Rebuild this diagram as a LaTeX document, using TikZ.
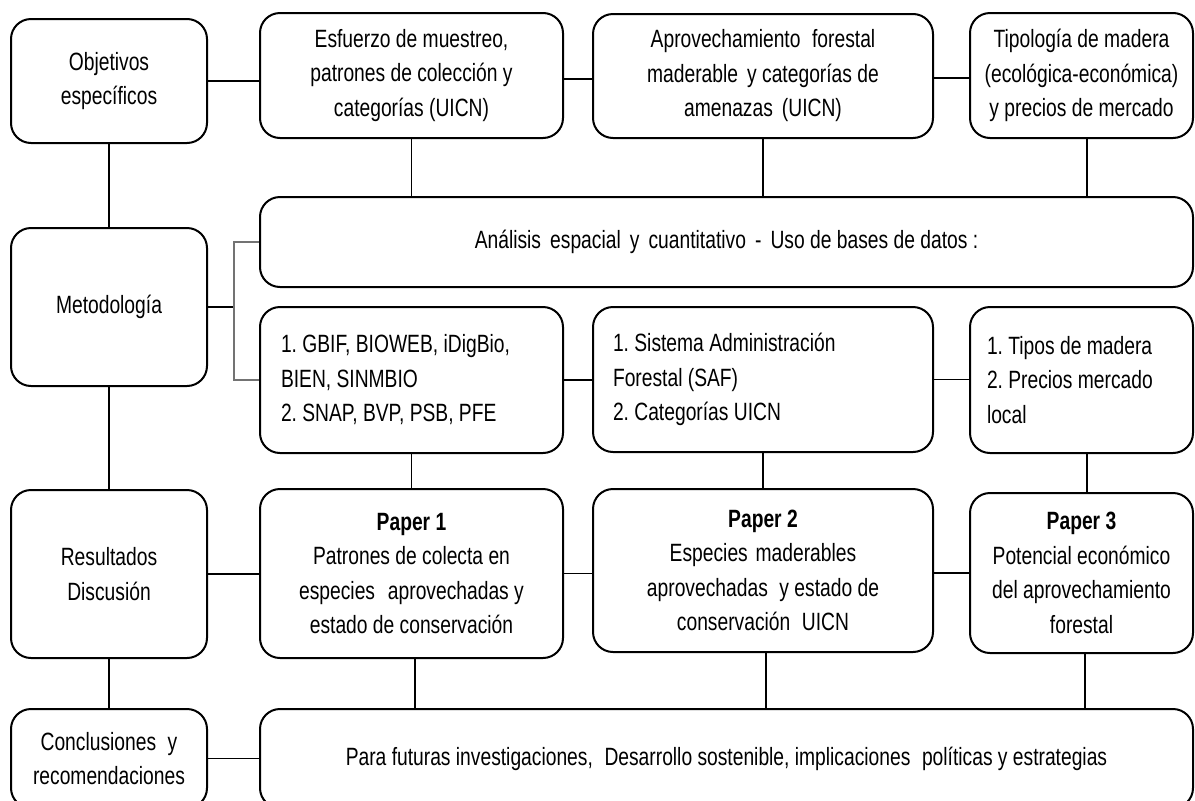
\documentclass[tikz,border=0pt]{standalone}
\usepackage{fontspec}
\setmainfont{Liberation Sans}[FakeStretch=0.77]
\frenchspacing
\begin{document}
\begin{tikzpicture}[x=1pt,y=-1pt,
  box/.style={draw, line width=2pt, rounded corners=20pt, inner sep=0pt, align=center,
    font=\fontsize{25pt}{34.5pt}\selectfont},
  lbox/.style={box, align=flush left},
  conn/.style={line width=1.8pt},
  brk/.style={line width=1.1pt, draw=black!55}]
\useasboundingbox (0,0) rectangle (1195,801);
\clip (0,0) rectangle (1195,801);
% left column
\node[box, minimum width=196pt, minimum height=124pt] (obj) at (109,81) {Objetivos\\específicos};
\node[box, minimum width=196pt, minimum height=158pt] (met) at (109,307) {Metodología};
\node[box, minimum width=196pt, minimum height=168pt] (res) at (109,574) {Resultados\\Discusión};
\node[box, minimum width=196pt, minimum height=99pt] (con) at (109,758.5) {Conclusiones\hspace{0.25em} y\\recomendaciones};
% top row
\node[box, minimum width=303pt, minimum height=125pt] (esf) at (411.5,75.5) {Esfuerzo de muestreo,\\patrones de colección y\\categorías (UICN)};
\node[box, minimum width=340pt, minimum height=124pt] (apr) at (763,76) {Aprovechamiento\hspace{0.25em} forestal\\maderable\hspace{0.15em} y categorías de\\amenazas\hspace{0.15em} (UICN)};
\node[box, minimum width=223pt, minimum height=125pt] (tip) at (1081.5,75.5) {Tipología de madera\\(ecológica-económica)\\y precios de mercado};
% analysis
\node[box, minimum width=933pt, minimum height=90pt] (ana) at (726.5,242) {Análisis\hspace{0.15em} espacial\hspace{0.15em} y\hspace{0.15em} cuantitativo\hspace{0.15em} -\hspace{0.15em} Uso de bases de datos :};
% data row
\node[lbox, inner xsep=21pt, text width=261pt, minimum height=146pt] (gbif) at (411.5,380) {1. GBIF, BIOWEB, iDigBio,\\BIEN, SINMBIO\\2. SNAP, BVP, PSB, PFE};
\node[lbox, inner xsep=20pt, text width=300pt, minimum height=145pt] (saf) at (763,379.5) {1. Sistema Administración\\Forestal (SAF)\\2. Categorías UICN};
\node[lbox, inner xsep=17pt, text width=189pt, minimum height=146pt] (tipos) at (1081.5,380) {1. Tipos de madera\\2. Precios mercado\\local};
% papers
\node[box, minimum width=303pt, minimum height=169pt] (p1) at (411.5,573.5) {\textbf{Paper 1}\\Patrones de colecta en\\especies\hspace{0.3em} aprovechadas y\\estado de conservación};
\node[box, minimum width=340pt, minimum height=163pt] (p2) at (763,570.5) {\textbf{Paper 2}\\Especies\hspace{0.1em} maderables\\aprovechadas\hspace{0.25em} y estado de\\conservación\hspace{0.25em} UICN};
\node[box, minimum width=223pt, minimum height=160pt] (p3) at (1081.5,573) {\textbf{Paper 3}\\Potencial económico\\del aprovechamiento\\forestal};
% final
\node[box, minimum width=933pt, minimum height=99pt] (fin) at (726.5,758.5) {Para futuras investigaciones,\hspace{0.25em} Desarrollo sostenible, implicaciones\hspace{0.25em} políticas y estrategias};
% connectors left column
\draw[conn] (obj.south) -- (met.north);
\draw[conn] (met.south) -- (res.north);
\draw[conn] (res.south) -- (con.north);
% horizontal connectors
\draw[conn] (obj.east) -- (esf.west |- obj.east);
\draw[conn] (esf.east |- 0,79) -- (apr.west |- 0,79);
\draw[conn] (apr.east |- 0,78) -- (tip.west |- 0,78);
\draw[conn] (met.east) -- (234,307) coordinate (bk);
\draw[brk] (ana.west) -| (bk) |- (gbif.west);
\draw[conn] (gbif.east) -- (saf.west |- gbif.east);
\draw[conn] (saf.east) -- (tipos.west |- saf.east);
\draw[conn] (res.east) -- (p1.west |- res.east);
\draw[conn] (p1.east) -- (p2.west |- p1.east);
\draw[conn] (p2.east |- p3.west) -- (p3.west);
\draw[conn] (con.east) -- (fin.west);
% vertical connectors
\draw[conn] (esf.south) -- (esf.south |- ana.north);
\draw[conn] (apr.south) -- (apr.south |- ana.north);
\draw[conn] ([xshift=5.5pt]tip.south) -- ([xshift=5.5pt]tip.south |- ana.north);
\draw[conn] (gbif.south) -- (gbif.south |- p1.north);
\draw[conn] (saf.south) -- (saf.south |- p2.north);
\draw[conn] ([xshift=5.5pt]tipos.south) -- ([xshift=5.5pt]tipos.south |- p3.north);
\draw[conn] ([xshift=3.5pt]p1.south) -- ([xshift=3.5pt]p1.south |- fin.north);
\draw[conn] ([xshift=3pt]p2.south) -- ([xshift=3pt]p2.south |- fin.north);
\draw[conn] ([xshift=3.5pt]p3.south) -- ([xshift=3.5pt]p3.south |- fin.north);
\end{tikzpicture}
\end{document}
